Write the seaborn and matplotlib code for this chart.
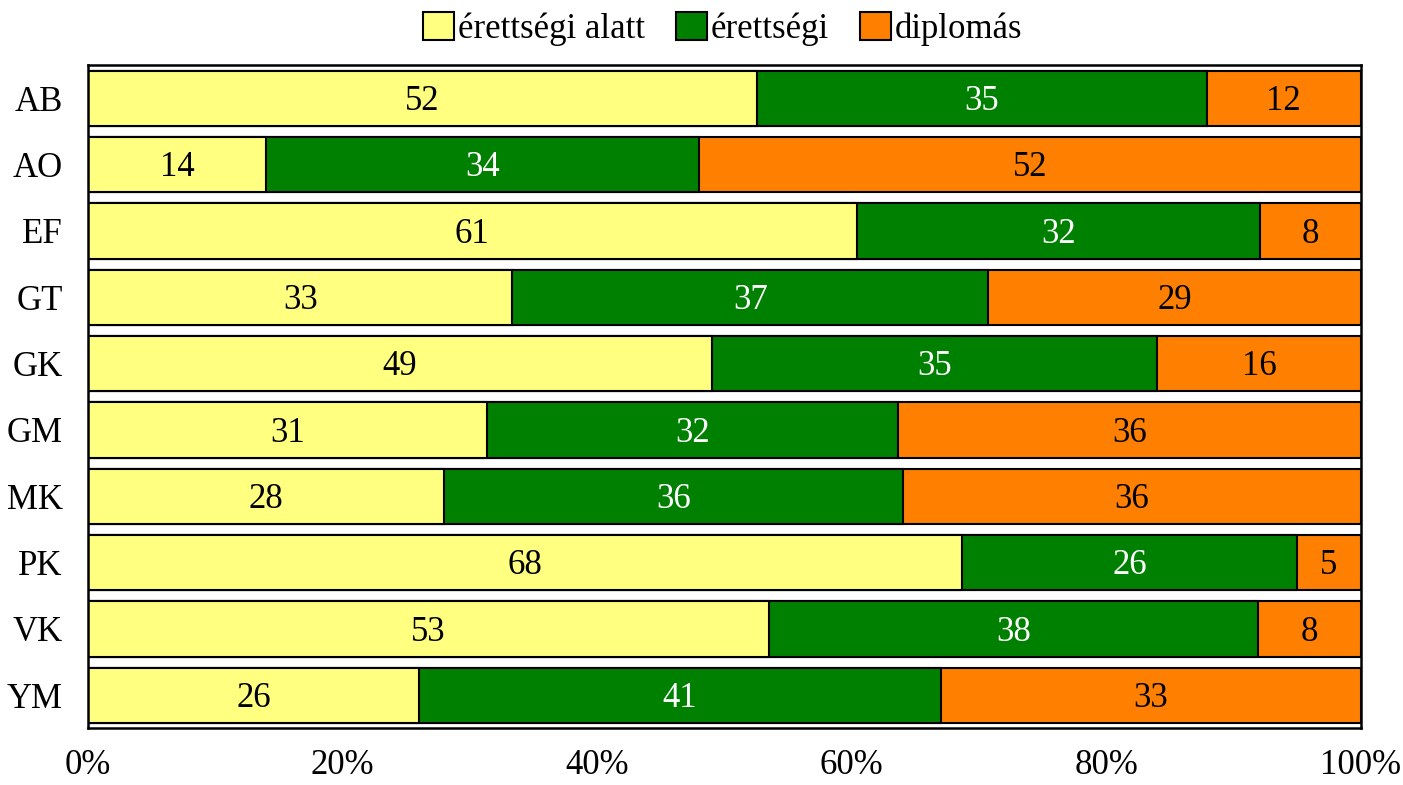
import matplotlib
matplotlib.use("Agg")
import matplotlib.pyplot as plt
import numpy as np
import pandas as pd
import seaborn as sns
from matplotlib.patches import Patch
from matplotlib.ticker import PercentFormatter

groups = ["AB", "AO", "EF", "GT", "GK", "GM", "MK", "PK", "VK", "YM"]
alatt = [52, 14, 61, 33, 49, 31, 28, 68, 53, 26]
erettsegi = [35, 34, 32, 37, 35, 32, 36, 26, 38, 41]
diplomas = [12, 52, 8, 29, 16, 36, 36, 5, 8, 33]

series = ["érettségi alatt", "érettségi", "diplomás"]
colors = ["#FFFF80", "#008000", "#FF8000"]
text_colors = ["black", "white", "black"]

sns.set_style("white")
plt.rcParams["font.family"] = ["Liberation Serif", "DejaVu Serif"]
plt.rcParams["text.color"] = "black"
plt.rcParams["xtick.color"] = "black"
plt.rcParams["ytick.color"] = "black"

df = pd.DataFrame({"group": groups, series[0]: alatt, series[1]: erettsegi, series[2]: diplomas})
raw = df[series].to_numpy(dtype=float)
share = raw / raw.sum(axis=1, keepdims=True) * 100
cum = np.cumsum(share, axis=1)
for i, s in enumerate(series):
    df["cum_" + s] = cum[:, i]

fig = plt.figure(figsize=(14.03, 7.85), dpi=100)
ax = fig.add_axes([0.0627, 0.072, 0.9073, 0.845])

# draw from the total down so each segment covers the one to its right
for i in reversed(range(len(series))):
    sns.barplot(data=df, x="cum_" + series[i], y="group", orient="h", color=colors[i],
                saturation=1, width=0.83, edgecolor="black", linewidth=1.5, ax=ax)

for r in range(len(groups)):
    left = 0
    for i in range(len(series)):
        ax.text(left + share[r, i] / 2, r + 0.05, f"{int(raw[r, i])}", ha="center", va="center",
                fontsize=25, color=text_colors[i])
        left += share[r, i]

ax.set_xlim(0, 100)
ax.set_ylim(9.5, -0.5)
ax.set_xticks([0, 20, 40, 60, 80, 100])
ax.xaxis.set_major_formatter(PercentFormatter(decimals=0))
ax.set_xlabel("")
ax.set_ylabel("")
ax.tick_params(axis="x", direction="in", length=4, width=1, color="gray",
               labelcolor="black", labelsize=25, pad=15)
ax.tick_params(axis="y", length=0, labelsize=25, labelcolor="black", pad=18)
for sp in ax.spines.values():
    sp.set_visible(True)
    sp.set_color("black")
    sp.set_linewidth(1.8)

handles = [Patch(facecolor=c, edgecolor="black", linewidth=1.5) for c in colors]
fig.legend(handles, series, loc="upper center", bbox_to_anchor=(0.515, 1.025), ncol=3,
           frameon=False, fontsize=25, handlelength=0.9, handleheight=0.9,
           handletextpad=0.1, columnspacing=0.9)

fig.savefig("out.png", dpi=100)
